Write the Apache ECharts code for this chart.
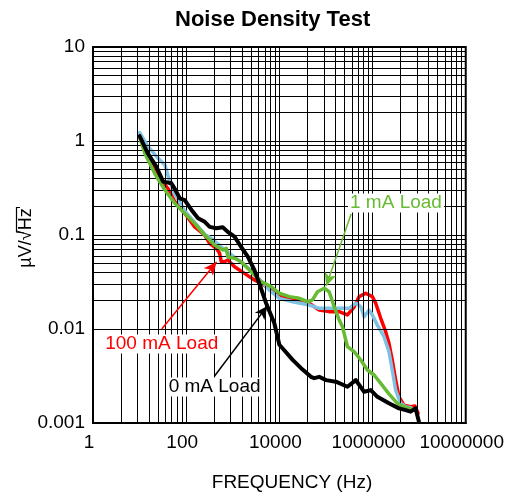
<!DOCTYPE html>
<html>
<head>
<meta charset="utf-8">
<script src="https://cdn.jsdelivr.net/npm/echarts@6/dist/echarts.min.js"></script>
<style>
html,body{margin:0;padding:0;background:#fff;}
#chart{width:507px;height:501px;}
</style>
</head>
<body>
<div id="chart"></div>
<script>
// ---- Data (frequency in Hz, noise in µV/√Hz) ----
const xTickLabels = ['1', '100', '10000', '1000000', '10000000'];
const yTickLabels = ['0.001', '0.01', '0.1', '1', '10'];

const load0F = [10, 15, 23, 32, 48, 57, 73, 93, 130, 180, 250, 320, 440, 610, 780, 1090, 1500, 2100, 2900, 3700, 5200, 7800, 10000, 11800, 19300, 31500, 47600, 56000, 71700, 100000, 163000, 289000, 437000, 658000, 914000, 1270000, 2250000, 3690000, 5130000, 6560000, 8400000, 9900000];
const load0V = [1.13, 0.74, 0.53, 0.37, 0.355, 0.31, 0.245, 0.235, 0.185, 0.151, 0.138, 0.122, 0.118, 0.121, 0.108, 0.096, 0.075, 0.059, 0.0425, 0.0306, 0.0188, 0.0115, 0.0068, 0.0062, 0.0047, 0.0037, 0.0031, 0.0030, 0.0031, 0.00286, 0.00275, 0.00243, 0.00286, 0.00215, 0.00224, 0.0019, 0.00162, 0.00143, 0.00137, 0.00132, 0.00143, 0.00103];

const load100F = [10, 15, 25, 41, 57, 93, 152, 249, 318, 443, 521, 566, 666, 784, 1090, 1780, 2920, 6110, 10000, 19300, 43800, 71700, 117000, 192000, 289000, 402000, 514000, 715000, 991000, 1170000, 1500000, 1910000, 2250000, 2650000, 3130000, 3690000, 4720000, 6560000, 8100000, 9500000];
const load100V = [1.11, 0.68, 0.42, 0.31, 0.226, 0.170, 0.122, 0.100, 0.0816, 0.0722, 0.0639, 0.052, 0.052, 0.0542, 0.046, 0.0391, 0.0332, 0.0271, 0.023, 0.0204, 0.0188, 0.0159, 0.0153, 0.0153, 0.0141, 0.0171, 0.0221, 0.024, 0.0221, 0.0188, 0.013, 0.00936, 0.00705, 0.00468, 0.00287, 0.0019, 0.00155, 0.00149, 0.00152, 0.00127];

const load10F = [10, 15.2, 25, 35, 45, 57, 75, 93, 152, 249, 346, 612, 1090, 2480, 6110, 10000, 19300, 43800, 71700, 117000, 192000, 314000, 437000, 560000, 658000, 841000, 991000, 1270000, 1760000, 2250000, 2650000, 3130000, 4010000, 5130000, 6670000];
const load10V = [1.23, 0.87, 0.655, 0.555, 0.36, 0.27, 0.22, 0.18, 0.136, 0.102, 0.092, 0.072, 0.058, 0.042, 0.026, 0.0212, 0.0195, 0.018, 0.0166, 0.0166, 0.0166, 0.0166, 0.0188, 0.0173, 0.0135, 0.0159, 0.0141, 0.011, 0.00828, 0.00574, 0.00366, 0.00224, 0.00162, 0.00149, 0.00145];

const load1F = [10, 12.9, 21, 35, 57, 93, 152, 249, 407, 612, 724, 784, 1090, 1520, 2480, 4060, 6640, 10000, 16400, 26800, 40300, 51500, 65900, 91800, 117000, 150000, 192000, 226000, 289000, 402000, 560000, 774000, 1080000, 1500000, 2250000, 3400000, 4720000, 6670000, 7500000];
const load1V = [1.11, 0.74, 0.453, 0.301, 0.217, 0.170, 0.133, 0.100, 0.0783, 0.0693, 0.0722, 0.0588, 0.0565, 0.052, 0.0407, 0.0319, 0.0282, 0.024, 0.0221, 0.0212, 0.0195, 0.0204, 0.0249, 0.0271, 0.0249, 0.0173, 0.0125, 0.0106, 0.00648, 0.00574, 0.00468, 0.00366, 0.00324, 0.00264, 0.00204, 0.00162, 0.00149, 0.00141, 0.0014];

// Annotations: label anchor and arrow (data coordinates)
const annotations = [
  {series: 'load1',   text: '1 mA Load',   color: '#66bb33', label: [3.18e6, 0.219], from: [3.47e5, 0.167], to: [1.01e5, 0.0287]},
  {series: 'load100', text: '100 mA Load', color: '#ff0000', label: [29.9, 0.00692], from: [29.9, 0.0100], to: [449, 0.0516]},
  {series: 'load0',   text: '0 mA Load',   color: '#000000', label: [407, 0.00241], from: [407, 0.00316], to: [5540, 0.0176]}
];

const FONT = 'Liberation Sans, Arial, Helvetica, sans-serif';
const zip = (a, b) => a.map((v, i) => [v, b[i]]);

// Minor grid lines (log spacing inside each major division)
const xMinor = [];
for (let j = 0; j < 4; j++) for (let k = 2; k <= 9; k++) xMinor.push(Math.pow(100, j) * k * k);
const yMinor = [];
for (let d = -3; d < 1; d++) for (let k = 2; k <= 9; k++) yMinor.push(k * Math.pow(10, d));

function annot(id) {
  const a = annotations.find(x => x.series === id);
  if (!a) return {};
  return {
    markLine: {
      silent: true, animation: false,
      symbol: ['none', 'arrow'], symbolSize: [9, 13],
      lineStyle: {color: a.color, width: 1.5, type: 'solid'},
      label: {show: false},
      data: [[{coord: a.from}, {coord: a.to}]]
    },
    markPoint: {
      silent: true, animation: false,
      symbol: 'circle', symbolSize: 1,
      itemStyle: {color: 'rgba(0,0,0,0)'},
      label: {show: true, position: 'inside', formatter: a.text, color: a.color,
              fontSize: 19, fontFamily: FONT, backgroundColor: '#fff', padding: [0, 2]},
      data: [{coord: a.label}]
    }
  };
}

const chart = echarts.init(document.getElementById('chart'), null, {renderer: 'canvas'});
const lineSeries = (id, name, color, data, width, z) => Object.assign({
  id: id, name: name, type: 'line', data: data, showSymbol: false, symbol: 'none',
  lineStyle: {color: color, width: width, join: 'round', cap: 'round'},
  itemStyle: {color: color}, z: z, animation: false
}, annot(id));

chart.setOption({
  animation: false,
  backgroundColor: '#fff',
  title: {
    text: 'Noise Density Test', left: 170, top: 4,
    textStyle: {fontSize: 22, fontWeight: 'bold', color: '#000', fontFamily: FONT}
  },
  grid: {left: 93, right: 40, top: 47, bottom: 78, show: true, borderColor: '#000', borderWidth: 2, backgroundColor: '#fff'},
  xAxis: {
    type: 'log', logBase: 100, min: 1, max: 1e8, splitNumber: 4,
    axisLine: {show: true, lineStyle: {color: '#000', width: 2}},
    axisTick: {show: false},
    minorTick: {show: false},
    axisLabel: {
      color: '#000', fontSize: 19, fontFamily: FONT, margin: 10, padding: [0, 8, 0, 0],
      formatter: v => xTickLabels[Math.round(Math.log(v) / Math.log(100))] || ''
    },
    splitLine: {show: true, lineStyle: {color: '#000', width: 1}}
  },
  yAxis: {
    type: 'log', logBase: 10, min: 0.001, max: 10, splitNumber: 4,
    axisLine: {show: true, lineStyle: {color: '#000', width: 2}},
    axisTick: {show: false},
    minorTick: {show: false},
    axisLabel: {
      color: '#000', fontSize: 19, fontFamily: FONT, margin: 8,
      formatter: v => yTickLabels[Math.round(Math.log10(v)) + 3] || ''
    },
    splitLine: {show: true, lineStyle: {color: '#000', width: 1}}
  },
  series: [
    {
      id: 'minorGrid', type: 'line', data: [], z: 1, silent: true,
      markLine: {
        silent: true, animation: false, symbol: ['none', 'none'],
        lineStyle: {color: '#000', width: 1, type: 'solid'},
        label: {show: false},
        data: xMinor.map(v => ({xAxis: v})).concat(yMinor.map(v => ({yAxis: v})))
      }
    },
    lineSeries('load100', '100 mA Load', '#ff0000', zip(load100F, load100V), 3.5, 3),
    lineSeries('load10', '10 mA Load', '#7fc1e3', zip(load10F, load10V), 3.5, 4),
    lineSeries('load1', '1 mA Load', '#66bb33', zip(load1F, load1V), 3.5, 5),
    lineSeries('load0', '0 mA Load', '#000000', zip(load0F, load0V), 4, 6)
  ],
  graphic: [
    {
      type: 'text', x: 292, y: 483,
      style: {text: 'FREQUENCY (Hz)', font: '19px ' + FONT, fill: '#000', textAlign: 'center', textVerticalAlign: 'middle'}
    },
    {
      type: 'group', x: 26, y: 238, rotation: Math.PI / 2,
      children: [
        {type: 'text', x: 0, y: 0, style: {text: 'µV/√Hz', font: '18px ' + FONT, fill: '#000', textAlign: 'center', textVerticalAlign: 'middle'}},
        {type: 'polyline', shape: {points: [[5, -2], [6, -9.5], [30.5, -9.5], [30.5, -6]]}, style: {stroke: '#000', lineWidth: 1.2, fill: null}}
      ]
    }
  ]
});
</script>
</body>
</html>
